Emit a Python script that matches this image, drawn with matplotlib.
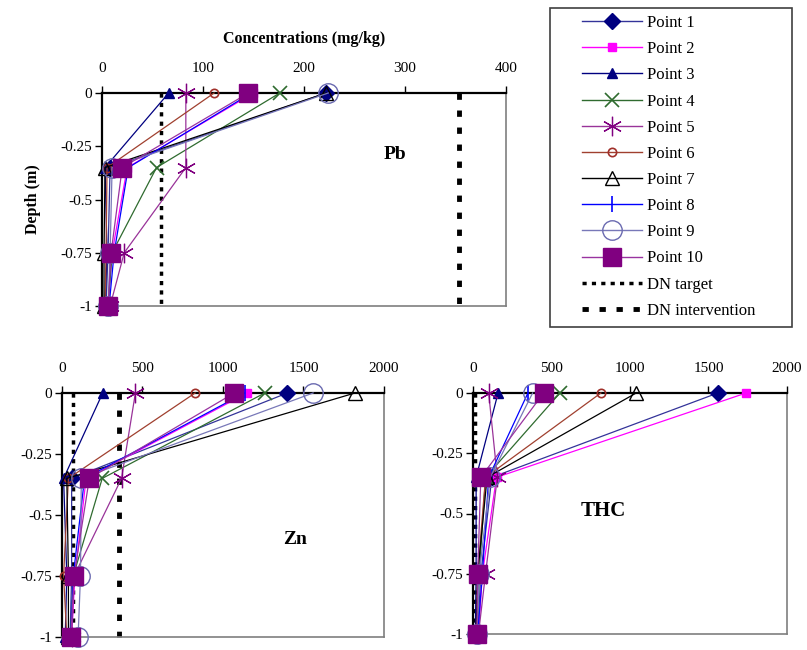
import matplotlib
matplotlib.use("Agg")
import matplotlib.pyplot as plt
from matplotlib.lines import Line2D
from matplotlib.patches import Rectangle

plt.rcParams['font.family'] = ['Liberation Serif', 'DejaVu Serif']

depth = [0, -0.35, -0.75, -1]
points = ["Point 1", "Point 2", "Point 3", "Point 4", "Point 5",
          "Point 6", "Point 7", "Point 8", "Point 9", "Point 10"]

pb = [
    [222, 8, 6, 4],
    [150, 25, 10, 6],
    [66, 3, 5, 3],
    [176, 54, 10, 6],
    [83, 83, 22, 8],
    [111, 5, 4, 3],
    [222, 3, 2, 2],
    [148, 26, 12, 7],
    [224, 10, 8, 6],
    [145, 20, 9, 6],
]
zn = [
    [1400, 60, 60, 50],
    [1150, 150, 80, 60],
    [253, 10, 30, 20],
    [1260, 250, 70, 55],
    [456, 370, 75, 60],
    [827, 40, 10, 30],
    [1820, 30, 40, 40],
    [1135, 140, 70, 55],
    [1560, 120, 115, 100],
    [1070, 170, 75, 55],
]
thc = [
    [1560, 120, 50, 30],
    [1740, 150, 60, 35],
    [160, 20, 20, 15],
    [554, 80, 40, 25],
    [100, 155, 80, 35],
    [815, 80, 30, 20],
    [1040, 90, 30, 20],
    [350, 100, 60, 30],
    [380, 110, 40, 25],
    [450, 50, 30, 25],
]

pb_target, pb_interv = 58, 353
zn_target, zn_interv = 68, 354
thc_target = 10

yticks = [0, -0.25, -0.5, -0.75, -1]
ytick_labels = ["0", "-0.25", "-0.5", "-0.75", "-1"]
pb_xticks = [0, 100, 200, 300, 400]
big_xticks = [0, 500, 1000, 1500, 2000]

styles = [
    dict(color='#333399', marker='D', mfc='#000080', mec='#000080', ms=8),
    dict(color='#FF00FF', marker='s', mfc='#FF00FF', mec='#FF00FF', ms=6),
    dict(color='#000080', marker='^', mfc='#000080', mec='#000080', ms=7),
    dict(color='#2F6B2F', marker='x', mfc='none', mec='#2F6B2F', ms=10, mew=1.2),
    dict(color='#993399', marker=(6, 2, 0), mfc='none', mec='#800080', ms=14, mew=0.9),
    dict(color='#A0402F', marker='o', mfc='none', mec='#A0302A', ms=6, mew=1.2),
    dict(color='#000000', marker='^', mfc='none', mec='#000000', ms=10, mew=1.0),
    dict(color='#0000FF', marker='|', mfc='#0000FF', mec='#0000FF', ms=11, mew=1.2),
    dict(color='#7878B8', marker='o', mfc='none', mec='#6A6AB0', ms=14, mew=1.0),
    dict(color='#9933A0', marker='s', mfc='#800080', mec='#800080', ms=13),
]

fig = plt.figure(figsize=(8.07, 6.5), dpi=100)

def style_axes(ax, xmax, xticks):
    ax.set_xlim(0, xmax)
    ax.set_ylim(-1, 0)
    ax.xaxis.tick_top()
    ax.set_xticks(xticks)
    ax.set_xticklabels([str(t) for t in xticks])
    ax.set_yticks(yticks)
    ax.set_yticklabels(ytick_labels)
    ax.tick_params(axis='both', direction='out', length=5, width=1, labelsize=11,
                   pad=2, colors='black')
    ax.tick_params(axis='x', pad=8)
    for s in ['left', 'top']:
        ax.spines[s].set_color('black')
        ax.spines[s].set_linewidth(1.6)
    for s in ['right', 'bottom']:
        ax.spines[s].set_color('#7f7f7f')
        ax.spines[s].set_linewidth(1.2)

def draw_series(ax, data):
    for vals, st in zip(data, styles):
        ax.plot(vals, depth, lw=0.9, clip_on=False, zorder=3, **st)

def draw_limit(ax, x, kind):
    if kind == 'target':
        ax.plot([x, x], [0, -1], color='black', lw=2.5, dashes=(1.2, 1.5), zorder=2, clip_on=False)
    else:
        ax.plot([x, x], [0, -1], color='black', lw=3.5, dashes=(1.3, 2.2), zorder=2, clip_on=False)

# Pb
ax1 = fig.add_axes([0.1264, 0.5292, 0.5006, 0.3277])
style_axes(ax1, 400, pb_xticks)
draw_limit(ax1, pb_target, 'target')
draw_limit(ax1, pb_interv, 'interv')
draw_series(ax1, pb)
ax1.set_xlabel("Concentrations (mg/kg)", fontsize=11.5, fontweight='bold', labelpad=13.5)
ax1.xaxis.set_label_position('top')
ax1.set_ylabel("Depth (m)", fontsize=11.5, fontweight='bold', labelpad=14)
ax1.text(290, -0.29, "Pb", fontsize=14, fontweight='bold', ha='center', va='center')

# Zn
ax2 = fig.add_axes([0.0768, 0.020, 0.3990, 0.3754])
style_axes(ax2, 2000, big_xticks)
draw_limit(ax2, zn_target, 'target')
draw_limit(ax2, zn_interv, 'interv')
draw_series(ax2, zn)
ax2.text(1450, -0.60, "Zn", fontsize=14, fontweight='bold', ha='center', va='center')

# THC
ax3 = fig.add_axes([0.5861, 0.0246, 0.3890, 0.3708])
style_axes(ax3, 2000, big_xticks)
draw_limit(ax3, thc_target, 'target')
draw_series(ax3, thc)
ax3.text(830, -0.49, "THC", fontsize=15, fontweight='bold', ha='center', va='center')

# Legend
handles = [Line2D([], [], lw=1.0, **st) for st in styles]
handles.append(Line2D([], [], color='black', lw=2.5, dashes=(1.2, 1.5)))
handles.append(Line2D([], [], color='black', lw=3.5, dashes=(1.3, 2.2)))
labels = points + ["DN target", "DN intervention"]
leg = fig.legend(handles, labels, loc='upper left',
                 bbox_to_anchor=(582 / 807, 1 - 15 / 650),
                 fontsize=12, handlelength=3.6, handletextpad=0.3,
                 labelspacing=0.61, borderpad=0, borderaxespad=0,
                 frameon=False)
fig.patches.append(Rectangle((550 / 807, 1 - 327 / 650), 242 / 807, 319 / 650,
                             transform=fig.transFigure, fill=False,
                             edgecolor='#404040', lw=1.2))

fig.savefig("out.png", dpi=100)
